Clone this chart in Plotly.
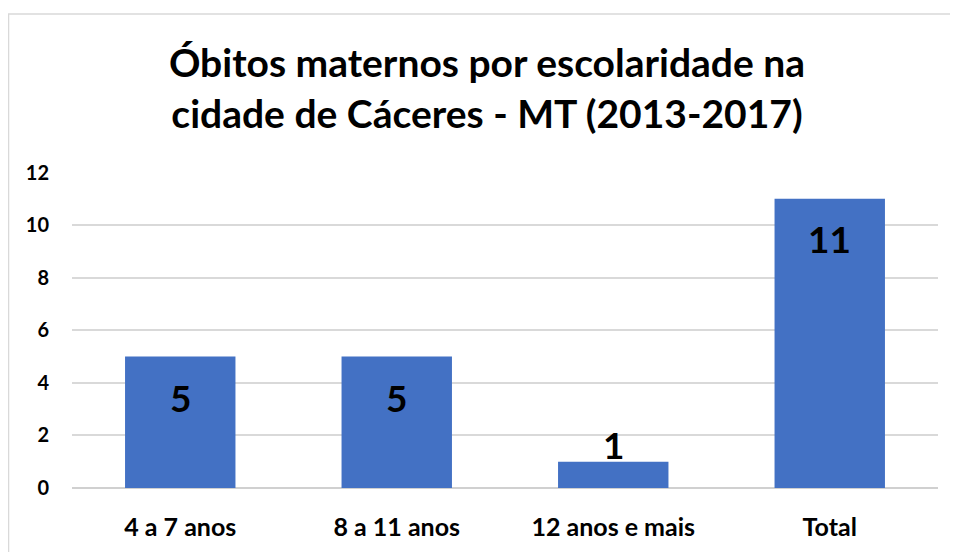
import plotly.graph_objects as go

categorias = ["4 a 7 anos", "8 a 11 anos", "12 anos e mais", "Total"]
obitos = [5, 5, 1, 11]
# rótulo dentro (no topo) ou fora da barra
deslocamento_rotulo = [-41, -41, 17, -40]

fonte = "Lato"

fig = go.Figure()
fig.add_trace(go.Bar(
    x=categorias, y=obitos,
    marker=dict(color="#4371C4", line=dict(width=0)),
    hoverinfo="x+y",
))

for cat, val, dy in zip(categorias, obitos, deslocamento_rotulo):
    fig.add_annotation(
        x=cat, y=val, text=str(val), showarrow=False,
        yanchor="middle", yshift=dy,
        font=dict(family=fonte, size=37, color="black", weight="bold"),
    )

fig.update_layout(
    width=958, height=552,
    margin=dict(l=64, r=28, t=164, b=72),
    paper_bgcolor="white", plot_bgcolor="white",
    showlegend=False,
    bargap=0.49,
    title=dict(
        text="Óbitos maternos por escolaridade na<br>cidade de Cáceres - MT (2013-2017)",
        x=0.5, xanchor="center", y=1 - 69 / 552, yanchor="middle",
        font=dict(family=fonte, size=39, color="black", weight="bold"),
    ),
    font=dict(family=fonte, color="black"),
)
fig.update_xaxes(
    showgrid=False, showline=False, zeroline=False,
    tickfont=dict(family=fonte, size=25, color="black", weight="bold"),
    ticklabelstandoff=22,
)
fig.update_yaxes(
    range=[0, 12.02], dtick=2, tick0=0,
    showgrid=True, gridcolor="#D9D9D9", gridwidth=1.5,
    zeroline=True, zerolinecolor="#D0D0D0", zerolinewidth=2,
    showline=False,
    tickfont=dict(family=fonte, size=20, color="black", weight="bold"),
    ticklabelstandoff=22,
)
# moldura do gráfico
fig.add_shape(type="rect", xref="paper", yref="paper",
              x0=-0.0733, x1=1.1, y0=-0.5, y1=1.5,
              line=dict(color="#D9D9D9", width=1.5), layer="below")

fig.write_html("out.html")
